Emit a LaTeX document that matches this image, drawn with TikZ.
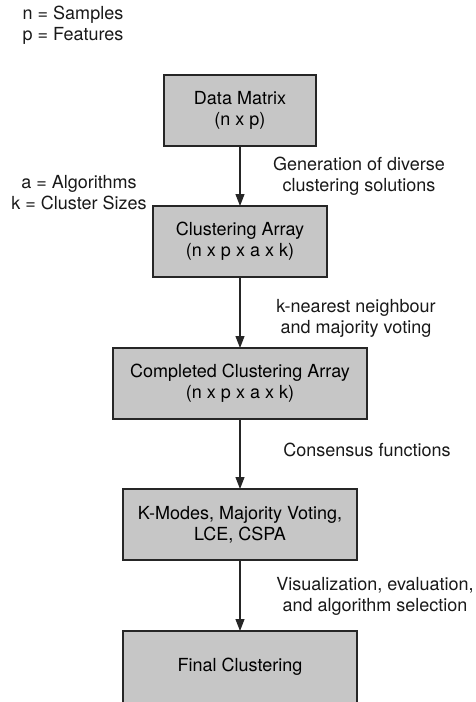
\documentclass[tikz,border=0pt]{standalone}
\usepackage{fontspec}
\setmainfont{TeX Gyre Heros}
\usepackage{tikz}
\usetikzlibrary{arrows.meta}
\usetikzlibrary{positioning}
\tikzset{
    textnode/.style = {align=center, inner sep=0pt, outer sep=0pt, font=\fontsize{9}{10.5}\selectfont},
    box_node/.style = {textnode, rectangle, draw=black!85, fill=gray!45, line width=0.9pt, minimum height=35.5pt},
    note_node/.style = {textnode, text=black!90},
    flow/.style = {-{Triangle[width=4.5pt,length=6pt]}, line width=0.6pt, draw=black!85}
}

\begin{document}
\begin{tikzpicture}
    \useasboundingbox (0pt,0pt) rectangle (238pt,-351pt);

    % legend
    \node [note_node] (key_np) at (36.5pt,-12.5pt) {n = Samples\\p = Features};
    \node [note_node] (key_ak) at (39.5pt,-96.25pt) {a = Algorithms\\k = Cluster Sizes};

    % pipeline
    \node [box_node, minimum width=76pt] (data_matrix) at (120pt,-55.25pt) {Data Matrix\\(n x p)};
    \node [box_node, minimum width=87pt, below=30pt of data_matrix] (clust_array) {Clustering Array\\(n x p x a x k)};
    \node [box_node, minimum width=127pt, below=35.5pt of clust_array] (completed) {Completed Clustering Array\\(n x p x a x k)};
    \node [box_node, minimum width=117pt, below=35pt of completed] (consensus) {K-Modes, Majority Voting,\\LCE, CSPA};
    \node [box_node, minimum width=117pt, minimum height=36pt, below=35.5pt of consensus] (final) {Final Clustering};

    \draw [flow] (data_matrix) -- node [note_node, xshift=59.5pt] (gen_lbl) {Generation of diverse\\clustering solutions} (clust_array);
    \draw [flow] (clust_array) -- node [note_node, xshift=58pt, yshift=-2.75pt] (knn_lbl) {k-nearest neighbour\\and majority voting} (completed);
    \draw [flow] (completed) -- node [note_node, xshift=63.5pt, yshift=2pt] (cons_lbl) {Consensus functions} (consensus);
    \draw [flow] (consensus) -- node [note_node, xshift=67.5pt, yshift=-0.5pt] (vis_lbl) {Visualization, evaluation,\\and algorithm selection} (final);
\end{tikzpicture}
\end{document}
